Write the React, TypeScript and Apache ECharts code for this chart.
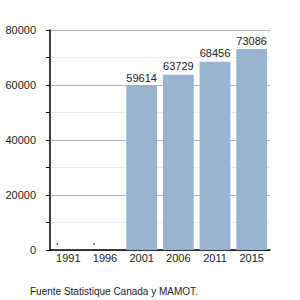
import React, { useEffect, useRef } from "react";
import * as echarts from "echarts";

const categories = ["1991", "1996", "2001", "2006", "2011", "2015"];
const values = [0, 0, 59614, 63729, 68456, 73086];
const yTicks = [0, 20000, 40000, 60000, 80000];
const footer = "Fuente Statistique Canada y MAMOT.";

export default function App() {
  const ref = useRef<HTMLDivElement>(null);
  useEffect(() => {
    if (!ref.current) return;
    const chart = echarts.init(ref.current, null, { renderer: "svg" });
    const font = "Liberation Sans, Arial, sans-serif";
    chart.setOption({
      animation: false,
      backgroundColor: "#ffffff",
      grid: { left: 50, right: 30, top: 30, bottom: 50, containLabel: false },
      xAxis: {
        type: "category",
        data: categories,
        axisLine: { show: true, lineStyle: { color: "#000", width: 1.5 } },
        axisTick: { show: false },
        axisLabel: { color: "#222", fontSize: 11, fontFamily: font, margin: 2 },
        splitLine: { show: false },
      },
      yAxis: {
        type: "value",
        min: yTicks[0],
        max: yTicks[yTicks.length - 1],
        interval: 20000,
        axisLine: { show: true, lineStyle: { color: "#000", width: 1.5 } },
        axisTick: { show: true, length: 4, lineStyle: { color: "#000" } },
        minorTick: { show: true, splitNumber: 2, length: 4, lineStyle: { color: "#000" } },
        axisLabel: {
          color: "#222",
          fontSize: 11,
          fontFamily: font,
          margin: 14,
          formatter: (v: number) => String(v),
        },
        splitLine: { show: true, lineStyle: { color: "#b0b0b0", width: 1 } },
        minorSplitLine: { show: true, lineStyle: { color: "#ececec", width: 1 } },
      },
      series: [
        {
          type: "bar",
          data: values.map((v) => (v === 0 ? "-" : v)),
          barCategoryGap: "16%",
          itemStyle: { color: "#9ab3d0" },
          label: {
            show: true,
            position: "top",
            distance: 3,
            color: "#222",
            fontSize: 11,
            fontFamily: font,
          },
        },
        {
          type: "scatter",
          data: values.map((v) => (v === 0 ? v : "-")),
          symbol: "circle",
          symbolSize: 1.6,
          symbolOffset: [-11, -6],
          itemStyle: { color: "#222" },
          silent: true,
        },
      ],
      graphic: [
        {
          type: "text",
          left: 30,
          top: 286,
          style: { text: footer, fill: "#222", fontSize: 10, fontFamily: font },
        },
      ],
    });
    return () => chart.dispose();
  }, []);
  return (
    <div
      ref={ref}
      style={{ position: "fixed", left: 0, top: 0, width: 300, height: 300 }}
    />
  );
}
